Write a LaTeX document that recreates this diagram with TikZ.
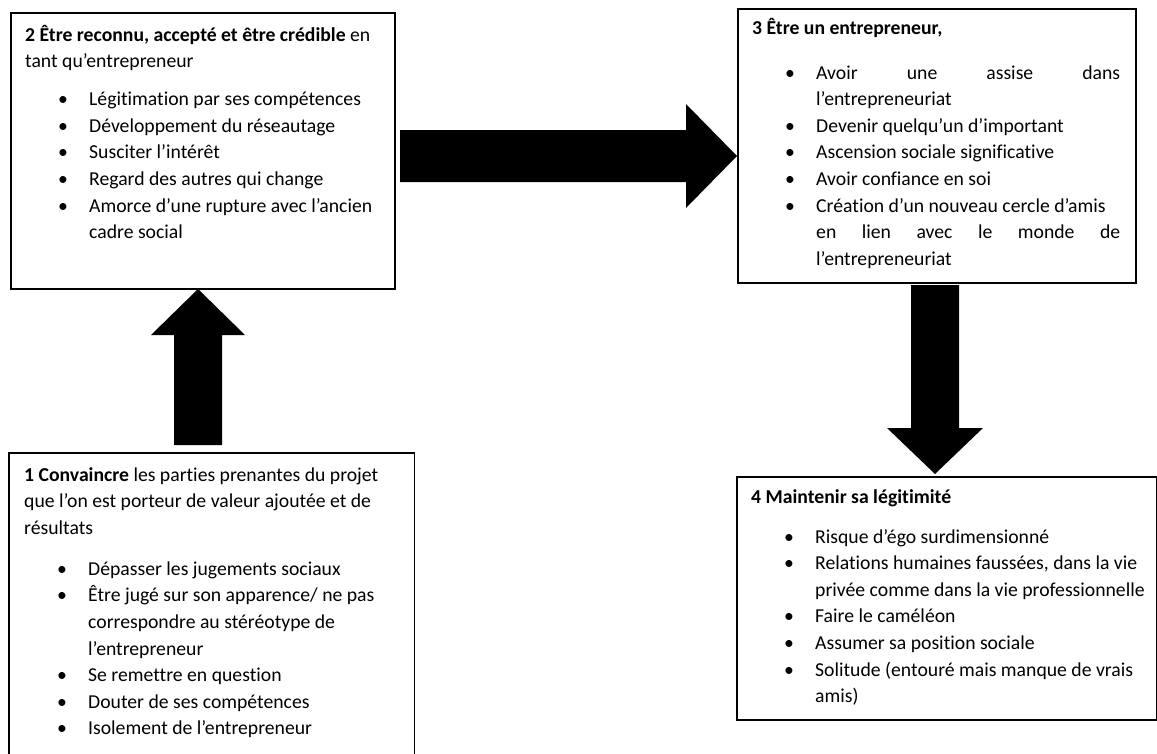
\documentclass[tikz,border=0pt]{standalone}
\usepackage{fontspec}
\setmainfont{Carlito}[Ligatures=NoCommon]
\usetikzlibrary{calc}
\newcommand{\bitem}[1]{\makebox[64pt][l]{\hspace*{33pt}\textbullet}#1}
\newcommand{\bcont}[1]{\hspace*{64pt}#1}
% #1 start, #2 tip, #3 shaft half width, #4 head half width, #5 head length
\newcommand{\blockarrow}[5]{%
  \coordinate (hb) at ($(#2)!#5!(#1)$);
  \fill[black] ($(#1)!#3!90:(#2)$) -- ($(hb)!#3!90:(#2)$) -- ($(hb)!#4!90:(#2)$) -- (#2)
     -- ($(hb)!#4!-90:(#2)$) -- ($(hb)!#3!-90:(#2)$) -- ($(#1)!#3!-90:(#2)$) -- cycle;}
\begin{document}
\begin{tikzpicture}[x=1pt,y=-1pt,
  box/.style={draw=black,line width=1.5pt,inner sep=0pt,anchor=north west},
  txt/.style={anchor=base west,inner sep=0pt,font=\fontsize{19.7}{26.6}\selectfont}]
\useasboundingbox[fill=white] (0,0) rectangle (1157,753);

% boxes
\node[box,minimum width=384pt,minimum height=276pt] (b2) at (10,12) {};
\node[box,minimum width=398pt,minimum height=274pt] (b3) at (737,8) {};
\node[box,minimum width=420pt,minimum height=243pt] (b4) at (736,476) {};
\node[box,draw=none,minimum width=404pt,minimum height=302pt] (b1) at (9,453) {};
\draw[line width=1.5pt] (b1.south west) -- (b1.north west) -- (b1.north east) -- (b1.south east);

% texts
\node[txt] (t2) at (25,41) {\parbox[t]{380pt}{\raggedright
\textbf{2 Être reconnu, accepté et être crédible} en\\
tant qu’entrepreneur\\[11.4pt]
\bitem{Légitimation par ses compétences}\\
\bitem{Développement du réseautage}\\
\bitem{Susciter l’intérêt}\\
\bitem{Regard des autres qui change}\\
\bitem{Amorce d’une rupture avec l’ancien}\\
\bcont{cadre social}}};

\node[txt] (t3) at (752,34) {\parbox[t]{390pt}{\raggedright
\textbf{3 Être un entrepreneur,}\\[18.4pt]
\bitem{\makebox[304pt][s]{Avoir une assise dans}}\\
\bcont{l’entrepreneuriat}\\
\bitem{Devenir quelqu’un d’important}\\
\bitem{Ascension sociale significative}\\
\bitem{Avoir confiance en soi}\\
\bitem{Création d’un nouveau cercle d’amis}\\
\bcont{\makebox[304pt][s]{en lien avec le monde de}}\\
\bcont{l’entrepreneuriat}}};

\node[txt] (t1) at (24,481) {\parbox[t]{385pt}{\raggedright
\textbf{1 Convaincre} les parties prenantes du projet\\
que l’on est porteur de valeur ajoutée et de\\
résultats\\[14.4pt]
\bitem{Dépasser les jugements sociaux}\\
\bitem{Être jugé sur son apparence/ ne pas}\\
\bcont{correspondre au stéréotype de}\\
\bcont{l’entrepreneur}\\
\bitem{Se remettre en question}\\
\bitem{Douter de ses compétences}\\
\bitem{Isolement de l’entrepreneur}}};

\node[txt] (t4) at (751,503) {\parbox[t]{400pt}{\raggedright
\textbf{4 Maintenir sa légitimité}\\[13.4pt]
\bitem{Risque d’égo surdimensionné}\\
\bitem{Relations humaines faussées, dans la vie}\\
\bcont{privée comme dans la vie professionnelle}\\
\bitem{Faire le caméléon}\\
\bitem{Assumer sa position sociale}\\
\bitem{Solitude (entouré mais manque de vrais}\\
\bcont{amis)}}};

% arrows
\coordinate (a12s) at (198,445);
\coordinate (a12e) at (198,289);
\coordinate (a23s) at (400,156);
\coordinate (a23e) at (737,156);
\coordinate (a34s) at (935,285);
\coordinate (a34e) at (935,474);
\blockarrow{a12s}{a12e}{24pt}{47pt}{46pt}
\blockarrow{a23s}{a23e}{26pt}{52pt}{51pt}
\blockarrow{a34s}{a34e}{24pt}{48pt}{46pt}
\end{tikzpicture}
\end{document}
